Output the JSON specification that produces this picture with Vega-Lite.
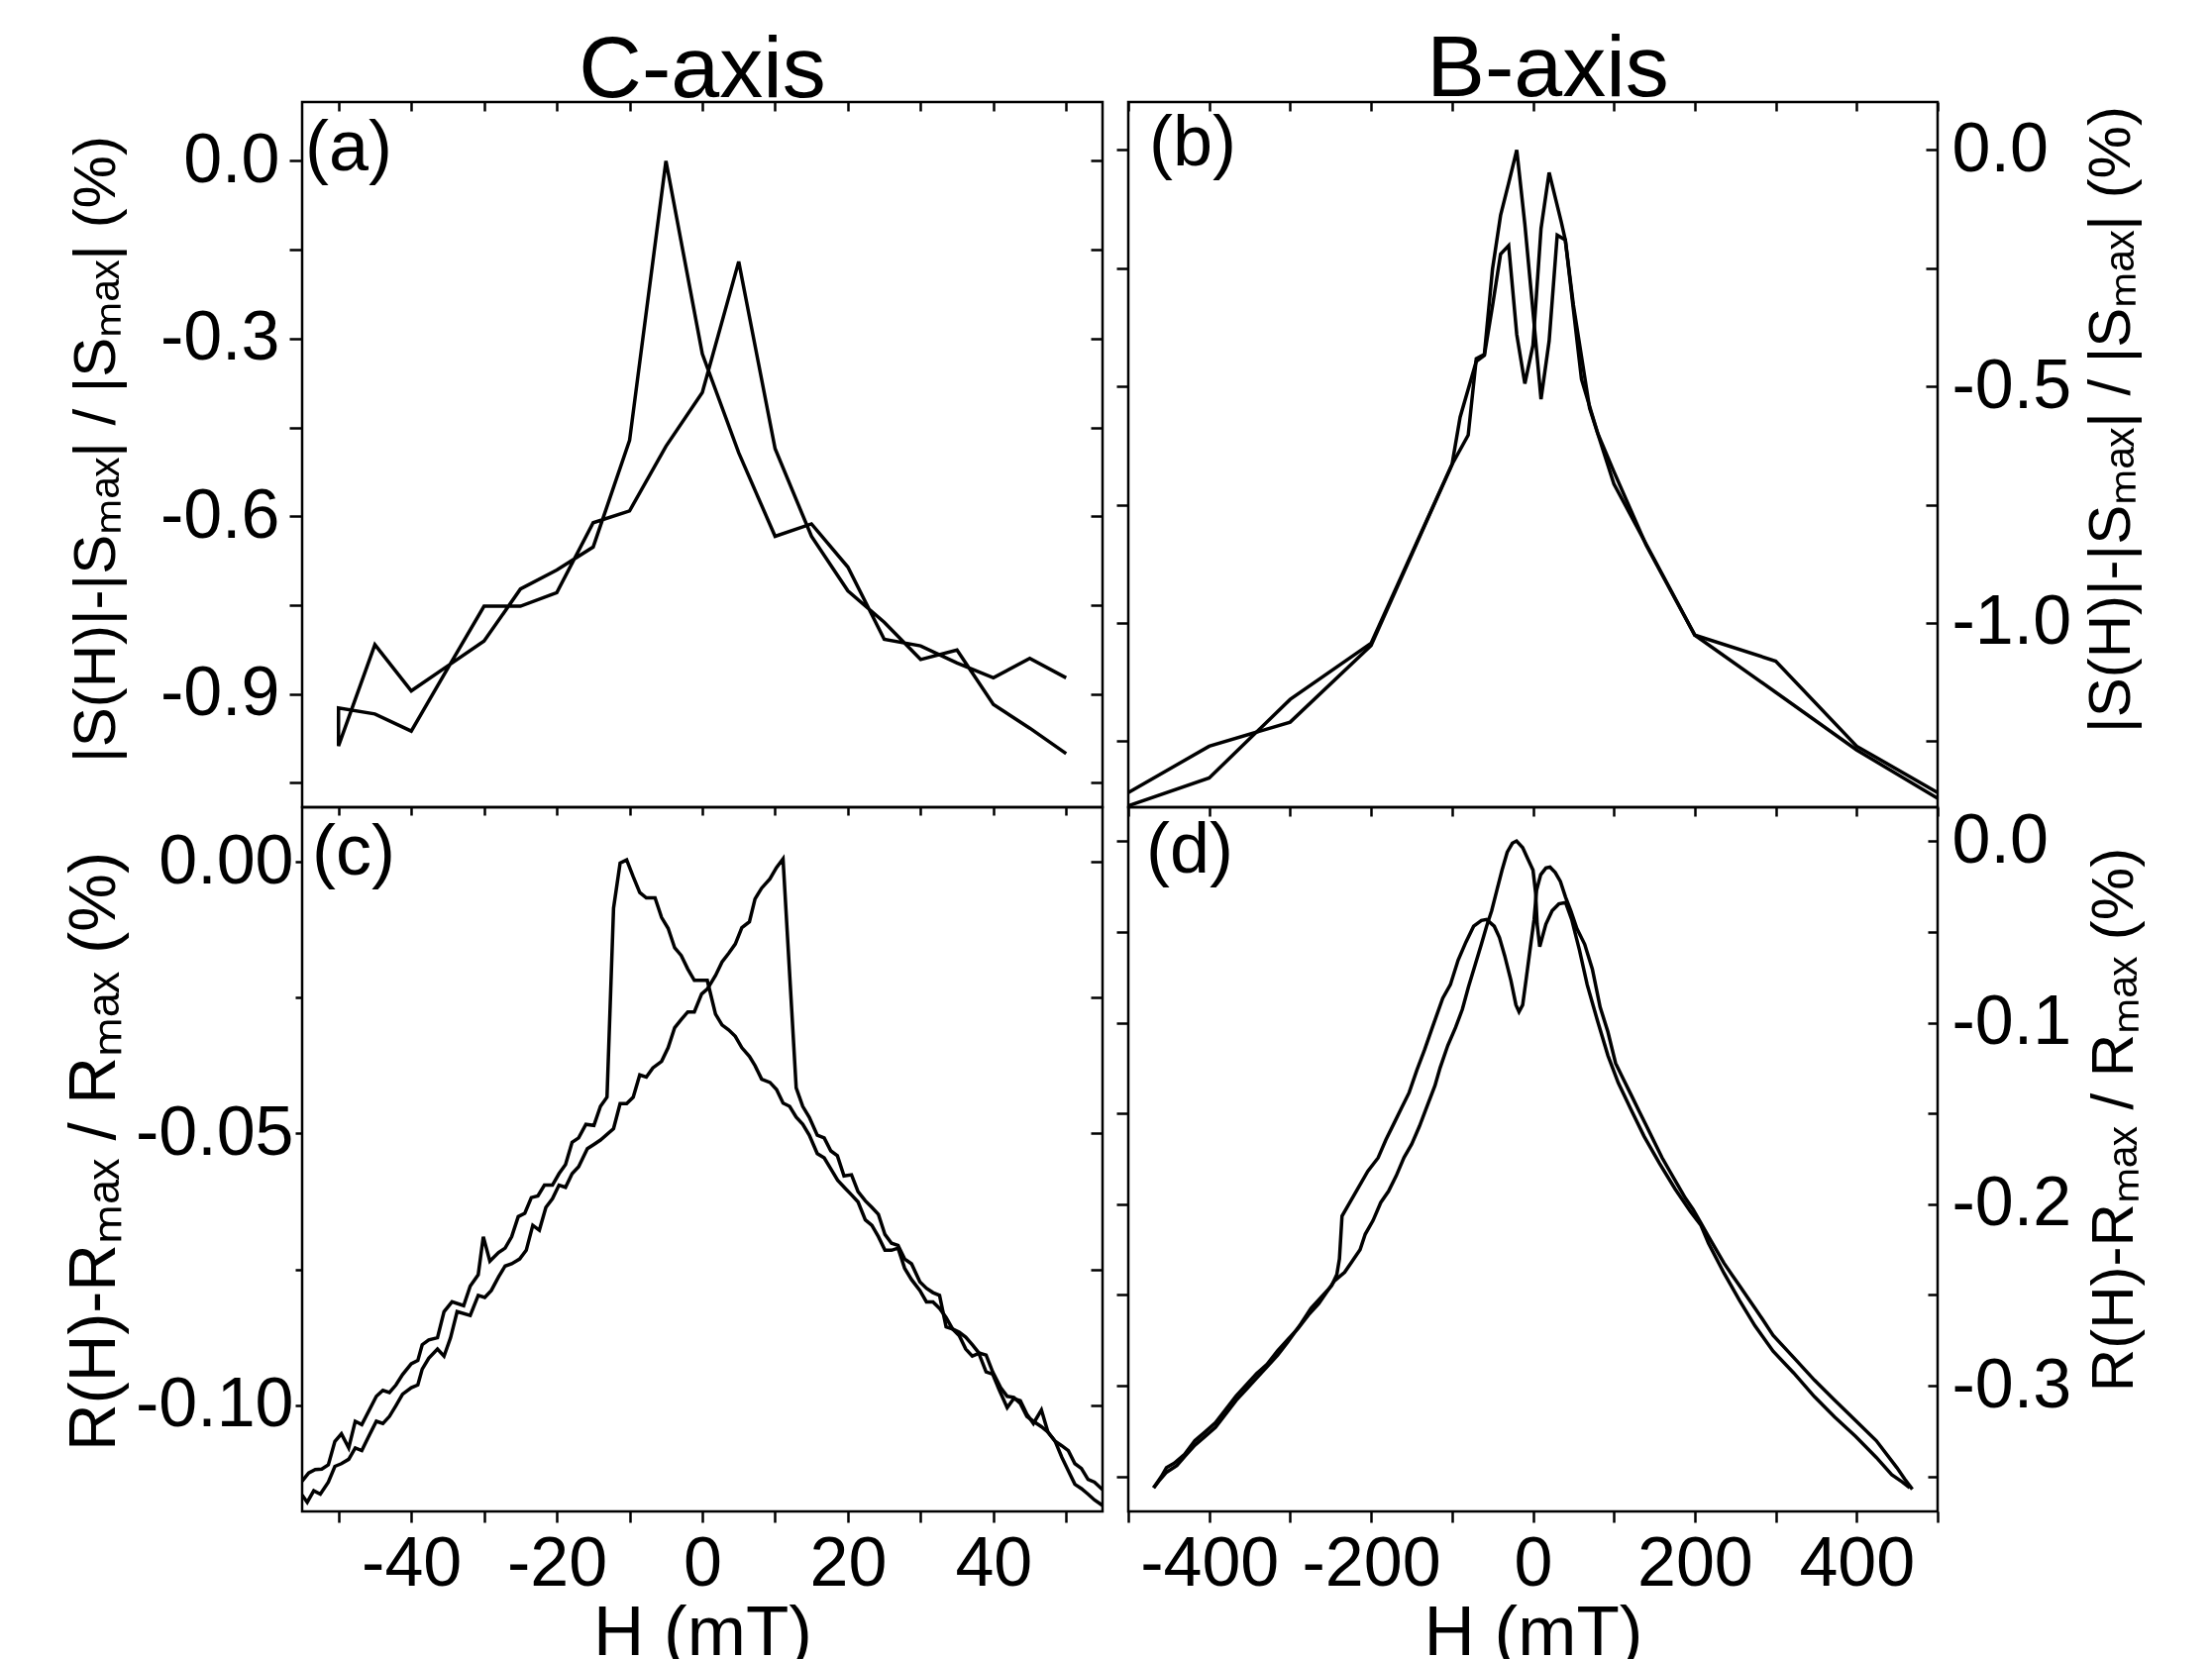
{
  "$schema": "https://vega.github.io/schema/vega-lite/v6.json",
  "background": "white",
  "padding": {"left": 60, "top": 25, "right": 0, "bottom": 0},
  "config": {
    "locale": {"number": {"decimal": ".", "thousands": ",", "grouping": [3], "currency": ["$", ""], "minus": "-"}},
    "view": {"stroke": "black", "strokeWidth": 2.5},
    "font": "Liberation Sans",
    "axis": {"grid": false, "domain": false, "tickColor": "black", "tickWidth": 2.5, "labelColor": "black", "titleColor": "black", "labelFont": "Liberation Sans", "titleFont": "Liberation Sans", "titleFontWeight": "normal", "labelFontSize": 70, "titleFontSize": 60, "labelOverlap": false, "labelFlush": false},
    "text": {"font": "Liberation Sans", "color": "black"}
  },
  "columns": 2,
  "spacing": {"row": 0, "column": 26},
  "bounds": "flush",
  "align": "each",
  "datasets": {
    "a": [
      {"H":50,"v":-0.873},{"H":45,"v":-0.840},{"H":40,"v":-0.873},{"H":35,"v":-0.848},{"H":30,"v":-0.819},{"H":25,"v":-0.808},{"H":20,"v":-0.686},{"H":15,"v":-0.613},{"H":10,"v":-0.634},{"H":5,"v":-0.493},{"H":0,"v":-0.326},{"H":-5,"v":0.0},{"H":-10,"v":-0.472},{"H":-15,"v":-0.652},{"H":-20,"v":-0.691},{"H":-25,"v":-0.723},{"H":-30,"v":-0.811},{"H":-35,"v":-0.853},{"H":-40,"v":-0.895},{"H":-45,"v":-0.817},{"H":-50,"v":-0.988},
      {"H":-50,"v":-0.924},{"H":-45,"v":-0.934},{"H":-40,"v":-0.963},{"H":-35,"v":-0.857},{"H":-30,"v":-0.752},{"H":-25,"v":-0.752},{"H":-20,"v":-0.729},{"H":-15,"v":-0.611},{"H":-10,"v":-0.591},{"H":-5,"v":-0.482},{"H":0,"v":-0.391},{"H":5,"v":-0.170},{"H":10,"v":-0.486},{"H":15,"v":-0.634},{"H":20,"v":-0.726},{"H":25,"v":-0.779},{"H":30,"v":-0.842},{"H":35,"v":-0.826},{"H":40,"v":-0.918},{"H":45,"v":-0.958},{"H":50,"v":-1.001}
    ],
    "b": [
      {"br":"X","H":500,"v":-1.359},{"br":"X","H":400,"v":-1.261},{"br":"X","H":300,"v":-1.081},{"br":"X","H":200,"v":-1.026},{"br":"X","H":100,"v":-0.706},{"br":"X","H":70,"v":-0.546},{"br":"X","H":50,"v":-0.328},{"br":"X","H":40,"v":-0.19},{"br":"X","H":30,"v":-0.18},{"br":"X","H":20,"v":-0.404},{"br":"X","H":10,"v":-0.527},{"br":"X","H":0,"v":-0.34},{"br":"X","H":-10,"v":-0.157},{"br":"X","H":-20,"v":0.0},{"br":"X","H":-30,"v":-0.07},{"br":"X","H":-40,"v":-0.138},{"br":"X","H":-50,"v":-0.252},{"br":"X","H":-60,"v":-0.432},{"br":"X","H":-70,"v":-0.441},{"br":"X","H":-80,"v":-0.603},{"br":"X","H":-100,"v":-0.665},{"br":"X","H":-200,"v":-1.043},{"br":"X","H":-300,"v":-1.162},{"br":"X","H":-400,"v":-1.328},{"br":"X","H":-500,"v":-1.387},
      {"br":"Y","H":-500,"v":-1.359},{"br":"Y","H":-400,"v":-1.261},{"br":"Y","H":-300,"v":-1.210},{"br":"Y","H":-200,"v":-1.048},{"br":"Y","H":-100,"v":-0.665},{"br":"Y","H":-90,"v":-0.565},{"br":"Y","H":-70,"v":-0.447},{"br":"Y","H":-60,"v":-0.434},{"br":"Y","H":-50,"v":-0.33},{"br":"Y","H":-40,"v":-0.22},{"br":"Y","H":-30,"v":-0.202},{"br":"Y","H":-20,"v":-0.39},{"br":"Y","H":-10,"v":-0.494},{"br":"Y","H":0,"v":-0.413},{"br":"Y","H":10,"v":-0.166},{"br":"Y","H":20,"v":-0.0475},{"br":"Y","H":35,"v":-0.152},{"br":"Y","H":40,"v":-0.19},{"br":"Y","H":60,"v":-0.485},{"br":"Y","H":80,"v":-0.599},{"br":"Y","H":100,"v":-0.68},{"br":"Y","H":140,"v":-0.836},{"br":"Y","H":200,"v":-1.026},{"br":"Y","H":300,"v":-1.147},{"br":"Y","H":400,"v":-1.269},{"br":"Y","H":500,"v":-1.371}
    ],
    "c": [
      {"br":"U","H":55,"v":-0.1185},{"br":"U","H":53.9,"v":-0.1175},{"br":"U","H":53.0,"v":-0.1164},{"br":"U","H":52.1,"v":-0.1154},{"br":"U","H":51.2,"v":-0.1146},{"br":"U","H":50.3,"v":-0.1121},{"br":"U","H":49.4,"v":-0.1096},{"br":"U","H":48.5,"v":-0.1067},{"br":"U","H":47.5,"v":-0.1050},{"br":"U","H":46.6,"v":-0.1009},{"br":"U","H":45.5,"v":-0.1034},{"br":"U","H":44.6,"v":-0.1017},{"br":"U","H":43.7,"v":-0.0992},{"br":"U","H":42.8,"v":-0.0988},{"br":"U","H":41.9,"v":-0.1005},{"br":"U","H":40.8,"v":-0.0972},{"br":"U","H":39.9,"v":-0.0943},{"br":"U","H":39.0,"v":-0.0939},{"br":"U","H":38.0,"v":-0.0905},{"br":"U","H":37.1,"v":-0.0910},{"br":"U","H":36.2,"v":-0.0897},{"br":"U","H":35.3,"v":-0.0872},{"br":"U","H":34.4,"v":-0.0860},{"br":"U","H":33.5,"v":-0.0839},{"br":"U","H":32.6,"v":-0.0822},{"br":"U","H":31.7,"v":-0.0810},{"br":"U","H":30.8,"v":-0.0810},{"br":"U","H":29.9,"v":-0.0789},{"br":"U","H":28.75,"v":-0.0769},{"br":"U","H":27.8,"v":-0.0748},{"br":"U","H":26.9,"v":-0.0711},{"br":"U","H":26.0,"v":-0.0715},{"br":"U","H":25.1,"v":-0.0715},{"br":"U","H":24.2,"v":-0.0690},{"br":"U","H":23.3,"v":-0.0669},{"br":"U","H":22.4,"v":-0.0659},{"br":"U","H":21.4,"v":-0.0626},{"br":"U","H":20.5,"v":-0.0613},{"br":"U","H":19.5,"v":-0.0599},{"br":"U","H":18.6,"v":-0.0586},{"br":"U","H":17.7,"v":-0.0566},{"br":"U","H":16.75,"v":-0.0545},{"br":"U","H":15.8,"v":-0.0537},{"br":"U","H":14.7,"v":-0.0503},{"br":"U","H":13.8,"v":-0.0483},{"br":"U","H":12.9,"v":-0.0470},{"br":"U","H":12.0,"v":-0.0450},{"br":"U","H":11.1,"v":-0.0444},{"br":"U","H":10.2,"v":-0.0419},{"br":"U","H":9.3,"v":-0.0406},{"br":"U","H":8.15,"v":-0.0400},{"br":"U","H":7.24,"v":-0.0375},{"br":"U","H":6.47,"v":-0.0358},{"br":"U","H":5.43,"v":-0.0342},{"br":"U","H":4.53,"v":-0.0321},{"br":"U","H":3.62,"v":-0.0309},{"br":"U","H":2.71,"v":-0.0300},{"br":"U","H":1.81,"v":-0.0280},{"br":"U","H":0.68,"v":-0.0218},{"br":"U","H":-0.2,"v":-0.0218},{"br":"U","H":-1.1,"v":-0.0218},{"br":"U","H":-2.0,"v":-0.0197},{"br":"U","H":-2.9,"v":-0.0172},{"br":"U","H":-3.8,"v":-0.0158},{"br":"U","H":-4.7,"v":-0.0122},{"br":"U","H":-5.6,"v":-0.0102},{"br":"U","H":-6.5,"v":-0.0066},{"br":"U","H":-7.7,"v":-0.0066},{"br":"U","H":-8.6,"v":-0.0056},{"br":"U","H":-9.5,"v":-0.0027},{"br":"U","H":-10.4,"v":0.0004},{"br":"U","H":-11.3,"v":-0.0002},{"br":"U","H":-12.2,"v":-0.0085},{"br":"U","H":-13.1,"v":-0.0433},{"br":"U","H":-14.0,"v":-0.0450},{"br":"U","H":-14.9,"v":-0.0485},{"br":"U","H":-16.0,"v":-0.0483},{"br":"U","H":-17.0,"v":-0.0508},{"br":"U","H":-17.9,"v":-0.0516},{"br":"U","H":-18.8,"v":-0.0557},{"br":"U","H":-19.7,"v":-0.0574},{"br":"U","H":-20.6,"v":-0.0595},{"br":"U","H":-21.7,"v":-0.0595},{"br":"U","H":-22.6,"v":-0.0615},{"br":"U","H":-23.5,"v":-0.0618},{"br":"U","H":-24.4,"v":-0.0647},{"br":"U","H":-25.3,"v":-0.0653},{"br":"U","H":-26.2,"v":-0.0690},{"br":"U","H":-27.1,"v":-0.0711},{"br":"U","H":-28.0,"v":-0.0719},{"br":"U","H":-29.2,"v":-0.0735},{"br":"U","H":-30.1,"v":-0.0690},{"br":"U","H":-30.8,"v":-0.0760},{"br":"U","H":-31.9,"v":-0.0781},{"br":"U","H":-32.8,"v":-0.0817},{"br":"U","H":-34.4,"v":-0.0810},{"br":"U","H":-35.5,"v":-0.0828},{"br":"U","H":-36.4,"v":-0.0876},{"br":"U","H":-37.6,"v":-0.0880},{"br":"U","H":-38.5,"v":-0.0889},{"br":"U","H":-39.1,"v":-0.0918},{"br":"U","H":-40.0,"v":-0.0924},{"br":"U","H":-41.2,"v":-0.0944},{"br":"U","H":-42.1,"v":-0.0963},{"br":"U","H":-43.0,"v":-0.0977},{"br":"U","H":-43.9,"v":-0.0973},{"br":"U","H":-44.8,"v":-0.0984},{"br":"U","H":-46.8,"v":-0.1036},{"br":"U","H":-47.7,"v":-0.1030},{"br":"U","H":-48.6,"v":-0.1079},{"br":"U","H":-49.6,"v":-0.1053},{"br":"U","H":-50.5,"v":-0.1067},{"br":"U","H":-51.4,"v":-0.1110},{"br":"U","H":-52.3,"v":-0.1118},{"br":"U","H":-53.2,"v":-0.1119},{"br":"U","H":-54.1,"v":-0.1125},{"br":"U","H":-55.0,"v":-0.1140},
      {"br":"L","H":-55.0,"v":-0.1166},{"br":"L","H":-54.3,"v":-0.1179},{"br":"L","H":-53.4,"v":-0.1158},{"br":"L","H":-52.5,"v":-0.1164},{"br":"L","H":-51.4,"v":-0.1142},{"br":"L","H":-50.5,"v":-0.1113},{"br":"L","H":-49.6,"v":-0.1108},{"br":"L","H":-48.6,"v":-0.1100},{"br":"L","H":-47.7,"v":-0.1079},{"br":"L","H":-46.8,"v":-0.1084},{"br":"L","H":-45.9,"v":-0.1059},{"br":"L","H":-44.8,"v":-0.1030},{"br":"L","H":-43.9,"v":-0.1034},{"br":"L","H":-43.0,"v":-0.1021},{"br":"L","H":-42.1,"v":-0.1001},{"br":"L","H":-41.2,"v":-0.0980},{"br":"L","H":-40.0,"v":-0.0968},{"br":"L","H":-39.1,"v":-0.0963},{"br":"L","H":-38.5,"v":-0.0934},{"br":"L","H":-37.6,"v":-0.0914},{"br":"L","H":-36.4,"v":-0.0897},{"br":"L","H":-35.5,"v":-0.0910},{"br":"L","H":-34.6,"v":-0.0876},{"br":"L","H":-33.7,"v":-0.0828},{"br":"L","H":-31.9,"v":-0.0835},{"br":"L","H":-30.8,"v":-0.0798},{"br":"L","H":-29.9,"v":-0.0802},{"br":"L","H":-29.0,"v":-0.0789},{"br":"L","H":-28.0,"v":-0.0764},{"br":"L","H":-27.1,"v":-0.0744},{"br":"L","H":-26.2,"v":-0.0740},{"br":"L","H":-25.1,"v":-0.0731},{"br":"L","H":-24.2,"v":-0.0715},{"br":"L","H":-23.3,"v":-0.0669},{"br":"L","H":-22.4,"v":-0.0678},{"br":"L","H":-21.5,"v":-0.0636},{"br":"L","H":-20.6,"v":-0.0620},{"br":"L","H":-19.7,"v":-0.0595},{"br":"L","H":-18.8,"v":-0.0599},{"br":"L","H":-17.9,"v":-0.0574},{"br":"L","H":-17.0,"v":-0.0561},{"br":"L","H":-15.8,"v":-0.0528},{"br":"L","H":-14.9,"v":-0.0520},{"br":"L","H":-14.0,"v":-0.0512},{"br":"L","H":-12.2,"v":-0.0491},{"br":"L","H":-11.3,"v":-0.0445},{"br":"L","H":-10.4,"v":-0.0445},{"br":"L","H":-9.5,"v":-0.0433},{"br":"L","H":-8.6,"v":-0.0392},{"br":"L","H":-7.7,"v":-0.0396},{"br":"L","H":-6.8,"v":-0.0379},{"br":"L","H":-5.6,"v":-0.0367},{"br":"L","H":-4.7,"v":-0.0342},{"br":"L","H":-3.8,"v":-0.0305},{"br":"L","H":-2.9,"v":-0.0290},{"br":"L","H":-2.0,"v":-0.0276},{"br":"L","H":-1.1,"v":-0.0276},{"br":"L","H":-0.1,"v":-0.0243},{"br":"L","H":0.68,"v":-0.0234},{"br":"L","H":1.81,"v":-0.0209},{"br":"L","H":2.71,"v":-0.0184},{"br":"L","H":3.62,"v":-0.0168},{"br":"L","H":4.53,"v":-0.0151},{"br":"L","H":5.43,"v":-0.0121},{"br":"L","H":6.47,"v":-0.0110},{"br":"L","H":7.24,"v":-0.0068},{"br":"L","H":8.15,"v":-0.0048},{"br":"L","H":9.28,"v":-0.0031},{"br":"L","H":10.19,"v":-0.0010},{"br":"L","H":11.09,"v":0.0006},{"br":"L","H":12.9,"v":-0.0416},{"br":"L","H":13.8,"v":-0.0450},{"br":"L","H":14.7,"v":-0.0470},{"br":"L","H":15.8,"v":-0.0503},{"br":"L","H":16.75,"v":-0.0508},{"br":"L","H":17.66,"v":-0.0532},{"br":"L","H":18.56,"v":-0.0541},{"br":"L","H":19.47,"v":-0.0578},{"br":"L","H":20.5,"v":-0.0576},{"br":"L","H":21.4,"v":-0.0607},{"br":"L","H":22.4,"v":-0.0624},{"br":"L","H":23.3,"v":-0.0636},{"br":"L","H":24.2,"v":-0.0649},{"br":"L","H":25.1,"v":-0.0686},{"br":"L","H":26.0,"v":-0.0702},{"br":"L","H":26.9,"v":-0.0706},{"br":"L","H":27.8,"v":-0.0731},{"br":"L","H":28.75,"v":-0.0740},{"br":"L","H":29.9,"v":-0.0773},{"br":"L","H":30.8,"v":-0.0785},{"br":"L","H":31.7,"v":-0.0793},{"br":"L","H":32.6,"v":-0.0798},{"br":"L","H":33.5,"v":-0.0856},{"br":"L","H":34.4,"v":-0.0860},{"br":"L","H":35.3,"v":-0.0866},{"br":"L","H":36.2,"v":-0.0875},{"br":"L","H":37.1,"v":-0.0889},{"br":"L","H":38.0,"v":-0.0904},{"br":"L","H":39.0,"v":-0.0908},{"br":"L","H":39.9,"v":-0.0939},{"br":"L","H":41.0,"v":-0.0968},{"br":"L","H":41.9,"v":-0.0984},{"br":"L","H":42.8,"v":-0.0986},{"br":"L","H":43.7,"v":-0.0997},{"br":"L","H":44.6,"v":-0.1021},{"br":"L","H":45.5,"v":-0.1030},{"br":"L","H":46.6,"v":-0.1040},{"br":"L","H":47.5,"v":-0.1050},{"br":"L","H":48.5,"v":-0.1067},{"br":"L","H":49.4,"v":-0.1075},{"br":"L","H":50.3,"v":-0.1084},{"br":"L","H":51.2,"v":-0.1108},{"br":"L","H":52.1,"v":-0.1117},{"br":"L","H":53.0,"v":-0.1137},{"br":"L","H":53.9,"v":-0.1142},{"br":"L","H":55,"v":-0.1156}
    ],
    "d": [
      {"br":"A","H":-468.7,"v":-0.3563},{"br":"A","H":-462.3,"v":-0.3526},{"br":"A","H":-452.8,"v":-0.3477},{"br":"A","H":-440.0,"v":-0.3440},{"br":"A","H":-430.4,"v":-0.3390},{"br":"A","H":-417.7,"v":-0.3328},{"br":"A","H":-404.9,"v":-0.3279},{"br":"A","H":-392.2,"v":-0.3229},{"br":"A","H":-379.4,"v":-0.3155},{"br":"A","H":-366.7,"v":-0.3081},{"br":"A","H":-353.9,"v":-0.3019},{"br":"A","H":-341.1,"v":-0.2957},{"br":"A","H":-328.4,"v":-0.2895},{"br":"A","H":-315.6,"v":-0.2833},{"br":"A","H":-302.9,"v":-0.2759},{"br":"A","H":-286.9,"v":-0.2660},{"br":"A","H":-274.2,"v":-0.2573},{"br":"A","H":-261.4,"v":-0.2511},{"br":"A","H":-248.7,"v":-0.2449},{"br":"A","H":-242.3,"v":-0.2387},{"br":"A","H":-239.1,"v":-0.2301},{"br":"A","H":-235.9,"v":-0.2065},{"br":"A","H":-226.3,"v":-0.1991},{"br":"A","H":-216.8,"v":-0.1917},{"br":"A","H":-204.0,"v":-0.1818},{"br":"A","H":-191.3,"v":-0.1744},{"br":"A","H":-181.7,"v":-0.1645},{"br":"A","H":-172.1,"v":-0.1558},{"br":"A","H":-162.6,"v":-0.1471},{"br":"A","H":-153.0,"v":-0.1385},{"br":"A","H":-143.4,"v":-0.1261},{"br":"A","H":-133.9,"v":-0.1149},{"br":"A","H":-124.3,"v":-0.1026},{"br":"A","H":-111.5,"v":-0.0865},{"br":"A","H":-102.0,"v":-0.0790},{"br":"A","H":-92.4,"v":-0.0654},{"br":"A","H":-82.8,"v":-0.0555},{"br":"A","H":-73.3,"v":-0.0468},{"br":"A","H":-63.7,"v":-0.0436},{"br":"A","H":-57.3,"v":-0.0431},{"br":"A","H":-47.8,"v":-0.0468},{"br":"A","H":-41.4,"v":-0.0530},{"br":"A","H":-35.0,"v":-0.0629},{"br":"A","H":-27.3,"v":-0.0765},{"br":"A","H":-21.0,"v":-0.0902},{"br":"A","H":-17.2,"v":-0.0939},{"br":"A","H":-12.7,"v":-0.0902},{"br":"A","H":-8.2,"v":-0.0753},{"br":"A","H":-3.1,"v":-0.0580},{"br":"A","H":1.4,"v":-0.0431},{"br":"A","H":4.5,"v":-0.0270},{"br":"A","H":9.6,"v":-0.0184},{"br":"A","H":16.0,"v":-0.0147},{"br":"A","H":21.1,"v":-0.0142},{"br":"A","H":27.5,"v":-0.0171},{"br":"A","H":33.9,"v":-0.0221},{"br":"A","H":40.3,"v":-0.0308},{"br":"A","H":46.7,"v":-0.0382},{"br":"A","H":54.3,"v":-0.0481},{"br":"A","H":63.9,"v":-0.0567},{"br":"A","H":73.4,"v":-0.0704},{"br":"A","H":83.0,"v":-0.0914},{"br":"A","H":92.6,"v":-0.1050},{"br":"A","H":102.1,"v":-0.1223},{"br":"A","H":111.7,"v":-0.1310},{"br":"A","H":121.3,"v":-0.1397},{"br":"A","H":130.8,"v":-0.1484},{"br":"A","H":140.4,"v":-0.1570},{"br":"A","H":150.0,"v":-0.1657},{"br":"A","H":159.5,"v":-0.1743},{"br":"A","H":169.1,"v":-0.1818},{"br":"A","H":178.7,"v":-0.1892},{"br":"A","H":188.2,"v":-0.1966},{"br":"A","H":197.8,"v":-0.2028},{"br":"A","H":207.4,"v":-0.2102},{"br":"A","H":216.9,"v":-0.2177},{"br":"A","H":226.5,"v":-0.2251},{"br":"A","H":236.1,"v":-0.2325},{"br":"A","H":245.6,"v":-0.2387},{"br":"A","H":255.2,"v":-0.2449},{"br":"A","H":264.8,"v":-0.2511},{"br":"A","H":274.3,"v":-0.2573},{"br":"A","H":283.9,"v":-0.2635},{"br":"A","H":296.7,"v":-0.2722},{"br":"A","H":322.2,"v":-0.2845},{"br":"A","H":347.7,"v":-0.2969},{"br":"A","H":373.2,"v":-0.3081},{"br":"A","H":398.7,"v":-0.3192},{"br":"A","H":424.2,"v":-0.3303},{"br":"A","H":449.7,"v":-0.3452},{"br":"A","H":459.3,"v":-0.3514},{"br":"A","H":468.8,"v":-0.3571},
      {"br":"D","H":465.6,"v":-0.3563},{"br":"D","H":456.1,"v":-0.3530},{"br":"D","H":443.3,"v":-0.3490},{"br":"D","H":424.2,"v":-0.3395},{"br":"D","H":398.7,"v":-0.3280},{"br":"D","H":373.2,"v":-0.3175},{"br":"D","H":347.7,"v":-0.3060},{"br":"D","H":322.2,"v":-0.2930},{"br":"D","H":296.7,"v":-0.2810},{"br":"D","H":274.3,"v":-0.2670},{"br":"D","H":255.2,"v":-0.2530},{"br":"D","H":236.1,"v":-0.2380},{"br":"D","H":216.9,"v":-0.2215},{"br":"D","H":207.4,"v":-0.2115},{"br":"D","H":194.6,"v":-0.2040},{"br":"D","H":175.5,"v":-0.1915},{"br":"D","H":156.4,"v":-0.1775},{"br":"D","H":137.2,"v":-0.1625},{"br":"D","H":121.3,"v":-0.1480},{"br":"D","H":105.3,"v":-0.1330},{"br":"D","H":92.6,"v":-0.1180},{"br":"D","H":79.8,"v":-0.0990},{"br":"D","H":67.0,"v":-0.0790},{"br":"D","H":57.5,"v":-0.0600},{"br":"D","H":47.9,"v":-0.0431},{"br":"D","H":40.3,"v":-0.0337},{"br":"D","H":32.0,"v":-0.0345},{"br":"D","H":23.7,"v":-0.0382},{"br":"D","H":16.0,"v":-0.0456},{"br":"D","H":8.4,"v":-0.0580},{"br":"D","H":5.2,"v":-0.0456},{"br":"D","H":3.3,"v":-0.0283},{"br":"D","H":0.1,"v":-0.0159},{"br":"D","H":-6.3,"v":-0.0097},{"br":"D","H":-12.7,"v":-0.0035},{"br":"D","H":-20.3,"v":0.0002},{"br":"D","H":-25.4,"v":-0.0010},{"br":"D","H":-31.8,"v":-0.0060},{"br":"D","H":-38.2,"v":-0.0159},{"br":"D","H":-44.6,"v":-0.0270},{"br":"D","H":-51.0,"v":-0.0382},{"br":"D","H":-57.3,"v":-0.0468},{"br":"D","H":-63.7,"v":-0.0567},{"br":"D","H":-72.1,"v":-0.0691},{"br":"D","H":-79.7,"v":-0.0803},{"br":"D","H":-87.3,"v":-0.0927},{"br":"D","H":-95.6,"v":-0.1026},{"br":"D","H":-105.2,"v":-0.1125},{"br":"D","H":-114.7,"v":-0.1248},{"br":"D","H":-121.1,"v":-0.1347},{"br":"D","H":-130.7,"v":-0.1459},{"br":"D","H":-140.2,"v":-0.1570},{"br":"D","H":-149.8,"v":-0.1669},{"br":"D","H":-159.4,"v":-0.1743},{"br":"D","H":-168.9,"v":-0.1843},{"br":"D","H":-178.5,"v":-0.1929},{"br":"D","H":-188.1,"v":-0.1991},{"br":"D","H":-197.6,"v":-0.2090},{"br":"D","H":-207.2,"v":-0.2165},{"br":"D","H":-213.6,"v":-0.2251},{"br":"D","H":-223.2,"v":-0.2313},{"br":"D","H":-232.7,"v":-0.2375},{"br":"D","H":-245.5,"v":-0.2424},{"br":"D","H":-255.0,"v":-0.2486},{"br":"D","H":-264.6,"v":-0.2548},{"br":"D","H":-277.4,"v":-0.2610},{"br":"D","H":-290.1,"v":-0.2684},{"br":"D","H":-302.9,"v":-0.2746},{"br":"D","H":-315.6,"v":-0.2808},{"br":"D","H":-328.4,"v":-0.2882},{"br":"D","H":-341.1,"v":-0.2932},{"br":"D","H":-353.9,"v":-0.2994},{"br":"D","H":-366.7,"v":-0.3056},{"br":"D","H":-379.4,"v":-0.3130},{"br":"D","H":-392.2,"v":-0.3204},{"br":"D","H":-404.9,"v":-0.3254},{"br":"D","H":-417.7,"v":-0.3303},{"br":"D","H":-430.4,"v":-0.3378},{"br":"D","H":-443.2,"v":-0.3427},{"br":"D","H":-452.8,"v":-0.3452},{"br":"D","H":-459.2,"v":-0.3501},{"br":"D","H":-468.7,"v":-0.3563}
    ]
  },
  "concat": [
    {
      "width": 808, "height": 712,
      "resolve": {"axis": {"x": "independent", "y": "independent"}},
      "layer": [
        {
          "data": {"name": "a"},
          "mark": {"type": "line", "clip": true, "color": "black", "strokeWidth": 3.5},
          "encoding": {
            "x": {"field": "H", "type": "quantitative", "scale": {"domain": [-55, 55], "nice": false, "zero": false}, "axis": null},
            "y": {"field": "v", "type": "quantitative", "scale": {"domain": [-1.0915, 0.0995], "nice": false, "zero": false},
                  "axis": {"orient": "left", "values": [0, -0.15, -0.3, -0.45, -0.6, -0.75, -0.9, -1.05], "labelExpr": "abs(datum.value/0.3 - round(datum.value/0.3)) < 0.01 ? format(datum.value, '.1f') : ''", "tickSize": 13, "labelPadding": 10, "title": "|S(H)|-|Sₘₐₓ| / |Sₘₐₓ| (%)", "titleX": -237, "titleY": 350, "titleAngle": 270, "titleBaseline": "top", "titleAlign": "center"}},
            "order": {"value": null}
          }
        },
        {
          "data": {"values": [{"t": "(a)"}]},
          "mark": {"type": "text", "align": "left", "baseline": "top", "dx": 3, "dy": 12, "fontSize": 72},
          "encoding": {
            "x": {"datum": -55, "type": "quantitative", "scale": {"domain": [-55, 55], "nice": false, "zero": false}, "axis": {"orient": "top", "values": [-50, -40, -30, -20, -10, 0, 10, 20, 30, 40, 50], "labels": false, "tickSize": 9, "offset": -9, "title": null}},
            "y": {"datum": 0.0995, "type": "quantitative", "scale": {"domain": [-1.0915, 0.0995], "nice": false, "zero": false}, "axis": {"orient": "right", "values": [0, -0.15, -0.3, -0.45, -0.6, -0.75, -0.9, -1.05], "labels": false, "tickSize": 12, "offset": -12, "title": null}},
            "text": {"field": "t"}
          }
        },
        {
          "data": {"values": [{"t": "C-axis"}]},
          "mark": {"type": "text", "align": "center", "baseline": "alphabetic", "dy": -5, "fontSize": 88, "clip": false},
          "encoding": {
            "x": {"datum": 0, "type": "quantitative", "scale": {"domain": [-55, 55], "nice": false, "zero": false}, "axis": null},
            "y": {"datum": 0.0995, "type": "quantitative", "scale": {"domain": [-1.0915, 0.0995], "nice": false, "zero": false}, "axis": null},
            "text": {"field": "t"}
          }
        }
      ]
    },
    {
      "width": 817, "height": 712,
      "resolve": {"axis": {"x": "independent", "y": "independent"}},
      "layer": [
        {
          "data": {"name": "b"},
          "mark": {"type": "line", "clip": true, "color": "black", "strokeWidth": 3.5},
          "encoding": {
            "x": {"field": "H", "type": "quantitative", "scale": {"domain": [-500, 500], "nice": false, "zero": false}, "axis": null},
            "y": {"field": "v", "type": "quantitative", "scale": {"domain": [-1.39, 0.1016], "nice": false, "zero": false},
                  "axis": {"orient": "left", "values": [0, -0.25, -0.5, -0.75, -1, -1.25], "labels": false, "tickSize": 12, "title": null}},
            "detail": {"field": "br"},
            "order": {"value": null}
          }
        },
        {
          "data": {"values": [{"t": "(b)"}]},
          "mark": {"type": "text", "align": "left", "baseline": "top", "dx": 21, "dy": 7, "fontSize": 72},
          "encoding": {
            "x": {"datum": -500, "type": "quantitative", "scale": {"domain": [-500, 500], "nice": false, "zero": false}, "axis": {"orient": "top", "values": [-500, -400, -300, -200, -100, 0, 100, 200, 300, 400, 500], "labels": false, "tickSize": 9, "offset": -9, "title": null}},
            "y": {"datum": 0.1016, "type": "quantitative", "scale": {"domain": [-1.39, 0.1016], "nice": false, "zero": false},
                  "axis": {"orient": "right", "values": [0, -0.25, -0.5, -0.75, -1, -1.25], "labelExpr": "abs(datum.value/0.5 - round(datum.value/0.5)) < 0.01 ? format(datum.value, '.1f') : ''", "tickSize": 12, "offset": -12, "labelPadding": 14, "title": "|S(H)|-|Sₘₐₓ| / |Sₘₐₓ| (%)", "titleX": 158, "titleY": 320, "titleAngle": 270, "titleBaseline": "top", "titleAlign": "center"}},
            "text": {"field": "t"}
          }
        },
        {
          "data": {"values": [{"t": "B-axis"}]},
          "mark": {"type": "text", "align": "center", "baseline": "alphabetic", "dx": 15, "dy": -6, "fontSize": 88, "clip": false},
          "encoding": {
            "x": {"datum": 0, "type": "quantitative", "scale": {"domain": [-500, 500], "nice": false, "zero": false}, "axis": null},
            "y": {"datum": 0.1016, "type": "quantitative", "scale": {"domain": [-1.39, 0.1016], "nice": false, "zero": false}, "axis": null},
            "text": {"field": "t"}
          }
        }
      ]
    },
    {
      "width": 808, "height": 711,
      "resolve": {"axis": {"x": "independent", "y": "independent"}},
      "layer": [
        {
          "data": {"name": "c"},
          "mark": {"type": "line", "clip": true, "color": "black", "strokeWidth": 3.5},
          "encoding": {
            "x": {"field": "H", "type": "quantitative", "scale": {"domain": [-55, 55], "nice": false, "zero": false},
                  "axis": {"orient": "bottom", "values": [-50, -40, -30, -20, -10, 0, 10, 20, 30, 40, 50], "labelExpr": "datum.value % 20 === 0 ? format(datum.value, 'd') : ''", "tickSize": 11, "labelPadding": 8, "title": "H (mT)", "titleFontSize": 71, "titleY": 88, "titleBaseline": "top"}},
            "y": {"field": "v", "type": "quantitative", "scale": {"domain": [-0.1196, 0.0101], "nice": false, "zero": false},
                  "axis": {"orient": "left", "values": [0, -0.025, -0.05, -0.075, -0.1], "labelExpr": "abs(datum.value/0.05 - round(datum.value/0.05)) < 0.01 ? format(datum.value, '.2f') : ''", "tickSize": 7, "labelPadding": 2, "title": "R(H)-Rₘₐₓ / Rₘₐₓ (%)", "titleFontSize": 66, "titleX": -242, "titleY": 347, "titleAngle": 270, "titleBaseline": "top", "titleAlign": "center"}},
            "detail": {"field": "br"},
            "order": {"value": null}
          }
        },
        {
          "data": {"values": [{"t": "(c)"}]},
          "mark": {"type": "text", "align": "left", "baseline": "top", "dx": 10, "dy": 11, "fontSize": 72},
          "encoding": {
            "x": {"datum": -55, "type": "quantitative", "scale": {"domain": [-55, 55], "nice": false, "zero": false}, "axis": {"orient": "top", "values": [-50, -40, -30, -20, -10, 0, 10, 20, 30, 40, 50], "labels": false, "tickSize": 8, "offset": -8, "title": null}},
            "y": {"datum": 0.0101, "type": "quantitative", "scale": {"domain": [-0.1196, 0.0101], "nice": false, "zero": false}, "axis": {"orient": "right", "values": [0, -0.025, -0.05, -0.075, -0.1], "labels": false, "tickSize": 12, "offset": -12, "title": null}},
            "text": {"field": "t"}
          }
        }
      ]
    },
    {
      "width": 817, "height": 711,
      "resolve": {"axis": {"x": "independent", "y": "independent"}},
      "layer": [
        {
          "data": {"name": "d"},
          "mark": {"type": "line", "clip": true, "color": "black", "strokeWidth": 3.5},
          "encoding": {
            "x": {"field": "H", "type": "quantitative", "scale": {"domain": [-500, 500], "nice": false, "zero": false},
                  "axis": {"orient": "bottom", "values": [-500, -400, -300, -200, -100, 0, 100, 200, 300, 400, 500], "labelExpr": "datum.value % 200 === 0 ? format(datum.value, 'd') : ''", "tickSize": 11, "labelPadding": 8, "title": "H (mT)", "titleFontSize": 71, "titleY": 88, "titleBaseline": "top"}},
            "y": {"field": "v", "type": "quantitative", "scale": {"domain": [-0.3693, 0.0188], "nice": false, "zero": false},
                  "axis": {"orient": "left", "values": [0, -0.05, -0.1, -0.15, -0.2, -0.25, -0.3, -0.35], "labels": false, "tickSize": 12, "title": null}},
            "detail": {"field": "br"},
            "order": {"value": null}
          }
        },
        {
          "data": {"values": [{"t": "(d)"}]},
          "mark": {"type": "text", "align": "left", "baseline": "top", "dx": 18, "dy": 9, "fontSize": 72},
          "encoding": {
            "x": {"datum": -500, "type": "quantitative", "scale": {"domain": [-500, 500], "nice": false, "zero": false}, "axis": {"orient": "top", "values": [-500, -400, -300, -200, -100, 0, 100, 200, 300, 400, 500], "labels": false, "tickSize": 9, "offset": -9, "title": null}},
            "y": {"datum": 0.0188, "type": "quantitative", "scale": {"domain": [-0.3693, 0.0188], "nice": false, "zero": false},
                  "axis": {"orient": "right", "values": [0, -0.05, -0.1, -0.15, -0.2, -0.25, -0.3, -0.35], "labelExpr": "abs(datum.value/0.1 - round(datum.value/0.1)) < 0.01 ? format(datum.value, '.1f') : ''", "tickSize": 10, "offset": -10, "labelPadding": 14, "title": "R(H)-Rₘₐₓ / Rₘₐₓ (%)", "titleX": 159, "titleY": 315, "titleAngle": 270, "titleBaseline": "top", "titleAlign": "center"}},
            "text": {"field": "t"}
          }
        }
      ]
    }
  ]
}
